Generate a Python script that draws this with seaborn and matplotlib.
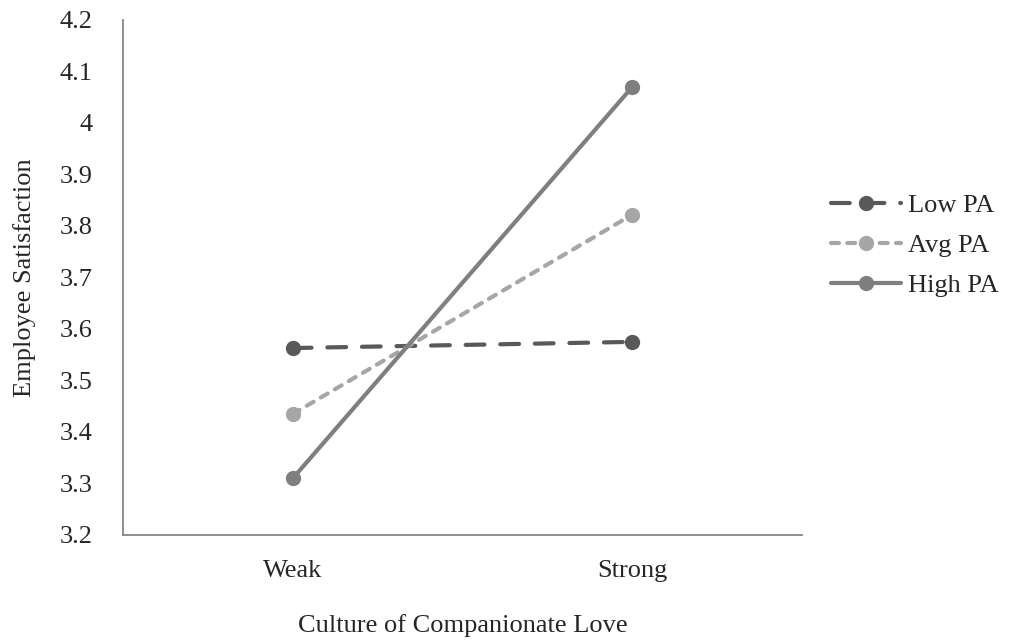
import numpy as np
import pandas as pd
import matplotlib
matplotlib.use("Agg")
import matplotlib.pyplot as plt
import seaborn as sns

# Data
culture = ["Weak", "Strong"]
groups = ["Low PA", "Avg PA", "High PA"]
low_pa = [3.563, 3.575]
avg_pa = [3.435, 3.822]
high_pa = [3.31, 4.07]
y_ticks = [3.2, 3.3, 3.4, 3.5, 3.6, 3.7, 3.8, 3.9, 4.0, 4.1, 4.2]
y_tick_labels = ["3.2", "3.3", "3.4", "3.5", "3.6", "3.7", "3.8", "3.9", "4", "4.1", "4.2"]

df = pd.DataFrame({
    "culture": culture * 3,
    "x": [0, 1] * 3,
    "group": [g for g in groups for _ in culture],
    "value": low_pa + avg_pa + high_pa,
})

sns.set_style("white")
plt.rcParams["font.family"] = ["Liberation Serif", "DejaVu Serif"]

palette = {"Low PA": "#595959", "Avg PA": "#a6a6a6", "High PA": "#7f7f7f"}
dashes = {"Low PA": (4.5, 3.8), "Avg PA": (1.9, 2.0), "High PA": ""}
fs = 19

fig = plt.figure(figsize=(10.11, 6.41), dpi=100)
ax = fig.add_axes([0.1217, 0.1654, 0.6716, 0.8034])

sns.lineplot(data=df, x="x", y="value", hue="group", style="group",
             palette=palette, dashes=dashes, markers={g: "o" for g in groups},
             markersize=11, markeredgewidth=0, linewidth=3.0, ax=ax, legend=True)

for line in ax.get_lines():
    line.set_dash_capstyle("round")
    line.set_solid_capstyle("round")

ax.set_xlim(-0.5, 1.5)
ax.set_ylim(3.2, 4.2)
ax.set_yticks(y_ticks)
ax.set_yticklabels(y_tick_labels, fontsize=fs)
ax.tick_params(axis="y", length=0, pad=22)

ax.set_xticks([-0.5, 0.5, 1.5])
ax.set_xticklabels([])
ax.set_xticks([0, 1], minor=True)
ax.set_xticklabels(culture, minor=True, fontsize=fs)
ax.tick_params(axis="x", which="major", length=6, width=1.3, color="#868686", direction="out")
ax.tick_params(axis="x", which="minor", length=0, pad=18)

for side in ["top", "right"]:
    ax.spines[side].set_visible(False)
for side in ["left", "bottom"]:
    ax.spines[side].set_color("#868686")
    ax.spines[side].set_linewidth(1.3)

ax.set_xlabel("Culture of Companionate Love", fontsize=fs, labelpad=23)
ax.set_ylabel("Employee Satisfaction", fontsize=fs, labelpad=17)

handles, labels = ax.get_legend_handles_labels()
ax.get_legend().remove()
fig.legend(handles, labels, loc="center left", bbox_to_anchor=(0.822, 0.617),
           frameon=False, fontsize=fs, handlelength=2.65, handletextpad=0.25,
           labelspacing=0.62, borderaxespad=0, borderpad=0)

fig.savefig("out.png", dpi=100)
